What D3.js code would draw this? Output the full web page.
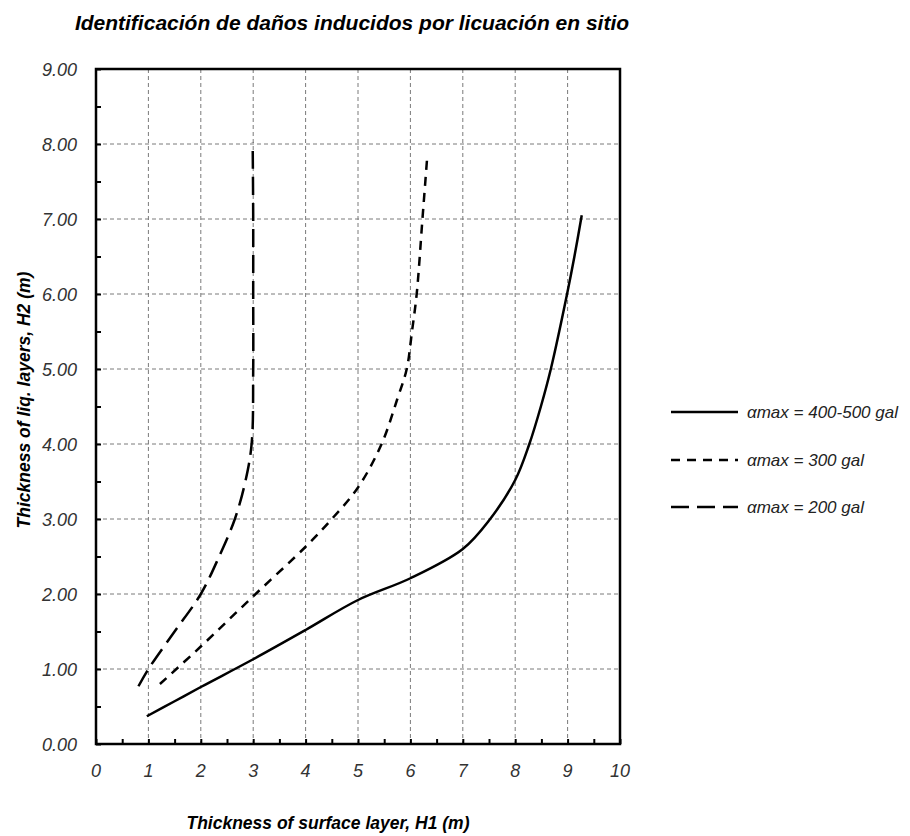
<!DOCTYPE html>
<html>
<head>
<meta charset="utf-8">
<script src="https://cdn.jsdelivr.net/npm/d3@7"></script>
<style>
  html, body { margin: 0; padding: 0; background: #fff; }
  svg { display: block; }
  text { font-family: "Liberation Sans", Arial, sans-serif; font-style: italic; }
</style>
</head>
<body>
<svg id="chart" width="910" height="836"></svg>
<script>
// Surface layer thickness H1 (m) and liquefiable layer thickness H2 (m) per boundary curve
const h1_400 = [0.97, 1.5, 2, 3, 4, 5, 6, 7, 7.5, 8, 8.27, 8.49, 8.68, 8.99, 9.13, 9.27];
const h2_400 = [0.37, 0.57, 0.76, 1.13, 1.52, 1.92, 2.21, 2.6, 2.98, 3.52, 4.0, 4.5, 5.0, 6.0, 6.5, 7.05];

const h1_300 = [1.22, 2, 3, 4, 4.5, 5, 5.45, 5.75, 5.93, 6.03, 6.12, 6.23, 6.32];
const h2_300 = [0.8, 1.3, 1.97, 2.63, 3.0, 3.42, 4.0, 4.6, 5.0, 5.5, 6.0, 7.0, 7.82];

const h1_200 = [0.81, 1.0, 1.5, 2.0, 2.35, 2.65, 2.85, 2.97, 3.0, 3.0, 3.0, 2.99];
const h2_200 = [0.77, 1.0, 1.5, 2.0, 2.5, 3.0, 3.5, 4.0, 5.0, 6.0, 7.0, 8.02];

const seriesNames = ["αmax = 400-500 gal", "αmax = 300 gal", "αmax = 200 gal"];

const xTicks = [0, 1, 2, 3, 4, 5, 6, 7, 8, 9, 10];
const yTicks = [0, 1, 2, 3, 4, 5, 6, 7, 8, 9];

const titleText = "Identificación de daños inducidos por licuación en sitio";
const xTitle = "Thickness of surface layer, H1 (m)";
const yTitle = "Thickness of liq. layers, H2 (m)";

const series = [
  { name: seriesNames[0], xs: h1_400, ys: h2_400, dash: null },
  { name: seriesNames[1], xs: h1_300, ys: h2_300, dash: "9,7" },
  { name: seriesNames[2], xs: h1_200, ys: h2_200, dash: "18,8" }
];

const svg = d3.select("#chart");
const plot = { left: 96, right: 620, top: 69, bottom: 744 };

const x = d3.scaleLinear().domain([0, 10]).range([plot.left, plot.right]);
const y = d3.scaleLinear().domain([0, 9]).range([plot.bottom, plot.top]);

// dashed grid
const grid = svg.append("g").attr("stroke", "#7a7a7a").attr("stroke-width", 1)
  .attr("stroke-dasharray", "4,3").attr("fill", "none");
xTicks.filter(v => v > 0 && v < 10).forEach(v => {
  grid.append("line").attr("x1", x(v)).attr("x2", x(v))
    .attr("y1", plot.top).attr("y2", plot.bottom);
});
yTicks.filter(v => v > 0 && v < 9).forEach(v => {
  grid.append("line").attr("x1", plot.left).attr("x2", plot.right)
    .attr("y1", y(v)).attr("y2", y(v));
});

// axes with inward half-unit ticks
const xAxis = d3.axisBottom(x).tickValues(d3.range(0, 10.01, 0.5)).tickSize(-5).tickFormat("");
const yAxis = d3.axisLeft(y).tickValues(d3.range(0, 9.01, 0.5)).tickSize(-5).tickFormat("");

const gx = svg.append("g").attr("transform", `translate(0,${plot.bottom})`).call(xAxis);
const gy = svg.append("g").attr("transform", `translate(${plot.left},0)`).call(yAxis);
[gx, gy].forEach(g => {
  g.select(".domain").remove();
  g.selectAll(".tick line").attr("stroke", "#000").attr("stroke-width", 2);
});

// frame
svg.append("rect")
  .attr("x", plot.left).attr("y", plot.top)
  .attr("width", plot.right - plot.left).attr("height", plot.bottom - plot.top)
  .attr("fill", "none").attr("stroke", "#000").attr("stroke-width", 2.5);

// tick labels
svg.append("g").selectAll("text").data(xTicks).join("text")
  .attr("x", d => x(d)).attr("y", 777)
  .attr("text-anchor", "middle")
  .attr("font-size", 18).attr("fill", "#333")
  .text(d => d);

svg.append("g").selectAll("text").data(yTicks).join("text")
  .attr("x", 77).attr("y", d => y(d) + 6.5)
  .attr("text-anchor", "end")
  .attr("font-size", 18).attr("fill", "#333")
  .text(d => d3.format(".2f")(d));

// curves
const line = d3.line()
  .x(d => x(d[0])).y(d => y(d[1]))
  .curve(d3.curveCatmullRom.alpha(0.5));

series.forEach(s => {
  const pts = s.xs.map((v, i) => [v, s.ys[i]]);
  svg.append("path")
    .datum(pts)
    .attr("d", line)
    .attr("fill", "none")
    .attr("stroke", "#000")
    .attr("stroke-width", 2.5)
    .attr("stroke-dasharray", s.dash);
});

// legend
const legendY = [412, 460, 507];
const legend = svg.append("g");
series.forEach((s, i) => {
  legend.append("line")
    .attr("x1", 671).attr("x2", 738)
    .attr("y1", legendY[i]).attr("y2", legendY[i])
    .attr("stroke", "#000").attr("stroke-width", 2.5)
    .attr("stroke-dasharray", s.dash);
  legend.append("text")
    .attr("x", 747).attr("y", legendY[i] + 6)
    .attr("font-size", 17).attr("fill", "#222")
    .text(s.name);
});

// titles
svg.append("text")
  .attr("x", 352).attr("y", 30)
  .attr("text-anchor", "middle")
  .attr("font-size", 21).attr("font-weight", "bold").attr("fill", "#000")
  .text(titleText);

svg.append("text")
  .attr("x", 328).attr("y", 829)
  .attr("text-anchor", "middle")
  .attr("font-size", 17.5).attr("font-weight", "bold").attr("fill", "#000")
  .text(xTitle);

svg.append("text")
  .attr("transform", "translate(30,400) rotate(-90)")
  .attr("text-anchor", "middle")
  .attr("font-size", 17.5).attr("font-weight", "bold").attr("fill", "#000")
  .text(yTitle);
</script>
</body>
</html>
